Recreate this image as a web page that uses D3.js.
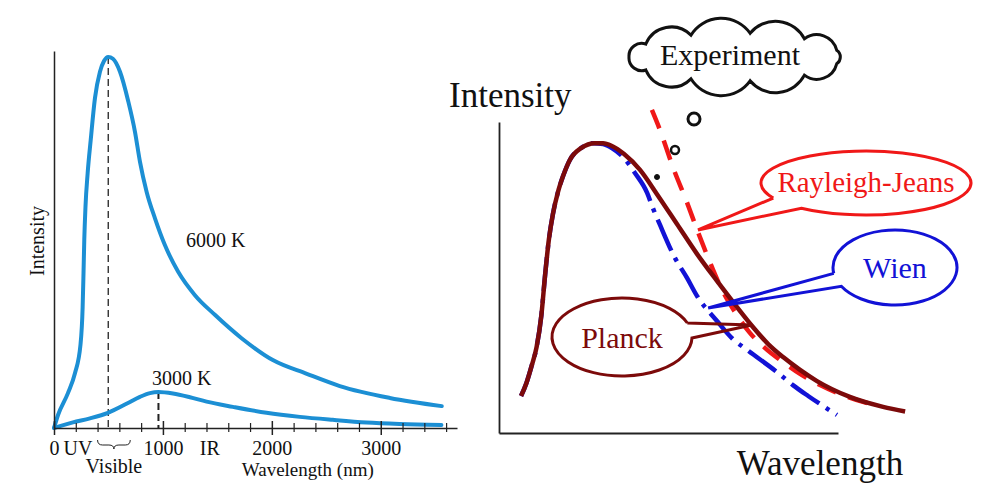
<!DOCTYPE html>
<html lang="en">
<head>
<meta charset="UTF-8">
<title>Blackbody radiation</title>
<style>
  body { margin: 0; background: #fff; }
  svg text { font-family: 'Liberation Serif', 'Times New Roman', serif; }
</style>
<script src="https://d3js.org/d3.v7.min.js"></script>
</head>
<body>
<svg width="991" height="496"></svg>
<script>
// left panel: wavelength (nm) vs intensity (arb. units, 6000 K peak = 100)
const lambda6000 = [0, 37, 128, 193, 243, 263, 271, 278, 289, 309, 337, 376, 422, 459, 498, 541, 606, 682, 743, 789,
                    850, 927, 1018, 1140, 1294, 1477, 1722, 2009, 2321, 2624, 3083, 3560];
const intensity6000 = [0, 3.5, 9.4, 14.8, 22.4, 32.6, 41.8, 50.7, 59.6, 68.7, 77.6, 88.9, 96, 98.9, 100, 99.5, 96, 88, 79.9, 71.8,
                       63.7, 56.5, 49.3, 42.1, 35.8, 30.5, 24.2, 18.3, 14.6, 11.3, 8.1, 5.9];
const lambda3000 = [0, 174, 330, 495, 670, 789, 881, 959, 1092, 1248, 1401, 1642, 1951, 2257, 2560, 2869, 3174, 3557];
const intensity3000 = [0, 1.5, 2.6, 4.1, 6.6, 8.4, 9.4, 9.7, 9.3, 8.3, 7.1, 5.7, 4.1, 3.0, 2.2, 1.5, 1.1, 0.8];

const minorTicks = [0, 200, 400, 600, 800, 1000, 1200, 1400, 1600, 1800, 2000, 2200, 2400, 2600, 2800, 3000, 3200, 3400, 3600];
const majorTicks = [0, 1000, 2000, 3000];
const bandNames = ["UV", "IR"];
const bandPos = [220, 1430];
const visibleRange = [400, 700];

// right panel: schematic curves (arb. units)
const planckX = [6.5, 8.1, 9.6, 11.1, 12.5, 13.6, 14.7, 15.9, 17.4, 18.9, 20.9, 24.2, 28.3, 30.7, 33.3, 36.9, 41.6, 46.6, 52.5, 58.4,
                 64.3, 70.2, 74.9, 79.4, 83.8, 88.8, 93.8, 103.5, 113.3, 119.8];
const planckY = [11.9, 16.1, 21.5, 27.7, 37.9, 50.8, 62.1, 70.4, 77.5, 82.6, 87.8, 91.6, 93.2, 93.2, 92.3, 89.7, 84.6, 76.8, 67.2, 57.6,
                 48.9, 40.5, 34.1, 28.6, 24.4, 20.3, 16.7, 11.6, 8.4, 6.9];
const wienX = [6.5, 8.1, 9.6, 11.1, 12.5, 13.6, 14.7, 15.9, 17.4, 18.9, 20.9, 24.2, 27.7, 30.7, 33.3, 36.6, 40.1, 43.7, 45.4, 47.5,
               51.9, 55.5, 58.4, 64.3, 68.7, 73.2, 82.0, 86.7, 91.2, 99.7];
const wienY = [11.9, 16.1, 21.5, 27.7, 37.9, 50.8, 62.1, 70.4, 77.5, 82.6, 87.8, 91.6, 93.2, 92.9, 91.6, 88.7, 83.6, 77.2, 72.3, 66.9,
               56.3, 49.8, 44.1, 36.0, 30.5, 26.7, 19.6, 15.4, 11.9, 5.8];
const rjX = [45.1, 47.5, 51.3, 55.5, 58.7, 62.8, 65.8, 69.6, 74.0, 78.5, 83.8, 88.8, 94.7, 102.1, 108.8];
const rjY = [103.9, 97.4, 85.5, 74.0, 64.6, 53.4, 46.0, 38.9, 32.2, 27.3, 22.8, 19.0, 15.4, 11.9, 9.6];

const svg = d3.select("svg");
const zip = (a, b) => a.map((v, i) => [v, b[i]]);

// ---------------- left panel ----------------
const xL = d3.scaleLinear().domain([0, 3700]).range([54, 457]);
const yL = d3.scaleLinear().domain([0, 101.6]).range([428, 51]);
const lineL = d3.line().x(d => xL(d[0])).y(d => yL(d[1])).curve(d3.curveMonotoneX);
const blue = "#1c8fd4";
const fs = 20;

function peak(xs, ys) {
    const i = d3.maxIndex(ys);
    return [xs[i], ys[i]];
}
const peaks = [
    { p: peak(lambda6000, intensity6000), w: 1.3 },
    { p: peak(lambda3000, intensity3000), w: 2 }
];
svg.selectAll("line.peak")
    .data(peaks)
    .enter().append("line")
    .attr("class", "peak")
    .attr("x1", d => xL(d.p[0])).attr("x2", d => xL(d.p[0]))
    .attr("y1", d => yL(d.p[1])).attr("y2", yL(0))
    .attr("stroke", "#222")
    .attr("stroke-width", d => d.w)
    .attr("stroke-dasharray", "7,4");

svg.selectAll("path.bb")
    .data([zip(lambda6000, intensity6000), zip(lambda3000, intensity3000)])
    .enter().append("path")
    .attr("class", "bb")
    .attr("d", lineL)
    .attr("fill", "none")
    .attr("stroke", blue)
    .attr("stroke-width", 4)
    .attr("stroke-linecap", "round");

const xAxisL = svg.append("g")
    .attr("transform", `translate(0,${yL(0)})`)
    .call(d3.axisBottom(xL).tickValues(minorTicks).tickSize(4).tickSizeOuter(0).tickPadding(9)
        .tickFormat(d => majorTicks.includes(d) ? d : ""));
xAxisL.attr("font-size", fs).attr("font-family", "'Liberation Serif', serif");
xAxisL.select(".domain").attr("stroke", "#222").attr("stroke-width", 1.5);
xAxisL.selectAll(".tick line")
    .attr("stroke", "#222")
    .attr("stroke-width", d => majorTicks.includes(d) ? 1.5 : 1.2)
    .attr("y1", d => majorTicks.includes(d) ? -7 : -5)
    .attr("y2", d => majorTicks.includes(d) ? 7 : 4);
xAxisL.selectAll(".tick text").attr("fill", "#111");

const yAxisL = svg.append("g")
    .attr("transform", `translate(${xL(0)},0)`)
    .call(d3.axisLeft(yL).tickValues([]).tickSizeOuter(0));
yAxisL.select(".domain").attr("stroke", "#222").attr("stroke-width", 1.5);

svg.selectAll("text.band")
    .data(bandNames)
    .enter().append("text")
    .attr("class", "band")
    .attr("x", (d, i) => xL(bandPos[i]))
    .attr("y", yL(0) + 27)
    .attr("text-anchor", "middle")
    .attr("font-size", fs)
    .attr("fill", "#111")
    .text(d => d);

// curly brace under the visible band
const b0 = xL(visibleRange[0]), b1 = xL(visibleRange[1]), bm = (b0 + b1) / 2, by = yL(0) + 12;
svg.append("path")
    .attr("d", `M${b0},${by} Q${b0},${by + 5} ${b0 + 5},${by + 5} L${bm - 5},${by + 5} Q${bm},${by + 5} ${bm},${by + 9}
                Q${bm},${by + 5} ${bm + 5},${by + 5} L${b1 - 5},${by + 5} Q${b1},${by + 5} ${b1},${by}`)
    .attr("fill", "none")
    .attr("stroke", "#222")
    .attr("stroke-width", 1);

svg.append("text")
    .attr("x", bm).attr("y", yL(0) + 45)
    .attr("text-anchor", "middle").attr("font-size", fs).attr("fill", "#111")
    .text("Visible");

svg.append("text")
    .attr("x", xL(2330)).attr("y", yL(0) + 48)
    .attr("text-anchor", "middle").attr("font-size", 19).attr("fill", "#111")
    .text("Wavelength (nm)");

svg.append("text")
    .attr("transform", `translate(44,241) rotate(-90)`)
    .attr("text-anchor", "middle").attr("font-size", fs).attr("fill", "#111")
    .text("Intensity");

svg.append("text").attr("x", 186).attr("y", 247).attr("font-size", fs).attr("fill", "#111").text("6000 K");
svg.append("text").attr("x", 152).attr("y", 385).attr("font-size", fs).attr("fill", "#111").text("3000 K");

// ---------------- right panel ----------------
const xR = d3.scaleLinear().domain([0, 100]).range([499, 838]);
const yR = d3.scaleLinear().domain([0, 100]).range([433, 122]);
const lineR = d3.line().x(d => xR(d[0])).y(d => yR(d[1])).curve(d3.curveMonotoneX);

const xAxisR = svg.append("g").attr("transform", `translate(0,${yR(0)})`)
    .call(d3.axisBottom(xR).tickValues([]).tickSizeOuter(0));
const yAxisR = svg.append("g").attr("transform", `translate(${xR(0)},0)`)
    .call(d3.axisLeft(yR).tickValues([]).tickSizeOuter(0));
[xAxisR, yAxisR].forEach(g => g.select(".domain").attr("stroke", "#222").attr("stroke-width", 1.8));

const series = [
    { name: "Wien", pts: zip(wienX, wienY), color: "#1212d6", dash: "34,8,4,8" },
    { name: "Rayleigh-Jeans", pts: zip(rjX, rjY), color: "#f01818", dash: "20,13" },
    { name: "Planck", pts: zip(planckX, planckY), color: "#7c0a0a", dash: null }
];
svg.selectAll("path.model")
    .data(series)
    .enter().append("path")
    .attr("class", "model")
    .attr("d", d => lineR(d.pts))
    .attr("fill", "none")
    .attr("stroke", d => d.color)
    .attr("stroke-width", 4.5)
    .attr("stroke-dasharray", d => d.dash);

svg.append("text")
    .attr("x", 449).attr("y", 107)
    .attr("font-size", 35).attr("fill", "#111")
    .text("Intensity");
svg.append("text")
    .attr("x", 820).attr("y", 475)
    .attr("text-anchor", "middle").attr("font-size", 35).attr("fill", "#111")
    .text("Wavelength");

// speech-bubble callouts
const callouts = [
    { label: "Rayleigh-Jeans", color: "#f01818", cx: 866, cy: 183, rx: 105, ry: 32, a1: 152, a2: 128, tip: [58.7, 65.3], size: 29, ty: 192 },
    { label: "Wien", color: "#1212d6", cx: 895, cy: 267.5, rx: 62, ry: 37.5, a1: 171, a2: 150, tip: [61.7, 40.2], size: 30, ty: 278 },
    { label: "Planck", color: "#7c0a0a", cx: 622, cy: 337, rx: 70, ry: 39, a1: -21, a2: 1.5, tip: [74.6, 34.7], size: 30, ty: 348 }
];
function bubblePath(c) {
    const pt = a => [c.cx + c.rx * Math.cos(a * Math.PI / 180), c.cy + c.ry * Math.sin(a * Math.PI / 180)];
    const p1 = pt(c.a1), p2 = pt(c.a2);
    const delta = (((c.a1 - c.a2) % 360) + 360) % 360;
    const sweep = delta > 180 ? 1 : 0;
    return `M${p1[0]},${p1[1]} L${xR(c.tip[0])},${yR(c.tip[1])} L${p2[0]},${p2[1]} A${c.rx},${c.ry} 0 1 ${sweep} ${p1[0]},${p1[1]}`;
}
const cg = svg.selectAll("g.callout").data(callouts).enter().append("g").attr("class", "callout");
cg.append("path")
    .attr("d", bubblePath)
    .attr("fill", "none")
    .attr("stroke", d => d.color)
    .attr("stroke-width", 3)
    .attr("stroke-linejoin", "miter");
cg.append("text")
    .attr("x", d => d.cx).attr("y", d => d.ty)
    .attr("text-anchor", "middle")
    .attr("font-size", d => d.size)
    .attr("fill", d => d.color)
    .text(d => d.label);

// thought cloud
const cloud = { cx: 735, cy: 57, rx: 106, ry: 24, n: 11 };
const cpts = d3.range(cloud.n + 1).map(i => {
    const t = Math.PI + i * 2 * Math.PI / cloud.n;
    return [cloud.cx + cloud.rx * Math.cos(t), cloud.cy + cloud.ry * Math.sin(t)];
});
let cd = `M${cpts[0][0]},${cpts[0][1]}`;
for (let i = 1; i < cpts.length; i++) {
    const c = Math.hypot(cpts[i][0] - cpts[i - 1][0], cpts[i][1] - cpts[i - 1][1]);
    cd += ` A${c * 0.6},${c * 0.6} 0 0 1 ${cpts[i][0]},${cpts[i][1]}`;
}
svg.append("path").attr("d", cd + "Z")
    .attr("fill", "white").attr("stroke", "#111").attr("stroke-width", 3);
svg.append("text")
    .attr("x", 730).attr("y", 65)
    .attr("text-anchor", "middle").attr("font-size", 30).attr("fill", "#111")
    .text("Experiment");

const bubbles = [
    { x: 694, y: 119, r: 6, w: 3, fill: "none" },
    { x: 675, y: 150, r: 4, w: 2.5, fill: "none" },
    { x: 657, y: 177, r: 2.5, w: 1, fill: "#111" }
];
svg.selectAll("circle.bub")
    .data(bubbles)
    .enter().append("circle")
    .attr("class", "bub")
    .attr("cx", d => d.x).attr("cy", d => d.y).attr("r", d => d.r)
    .attr("fill", d => d.fill)
    .attr("stroke", "#111")
    .attr("stroke-width", d => d.w);
</script>
</body>
</html>
